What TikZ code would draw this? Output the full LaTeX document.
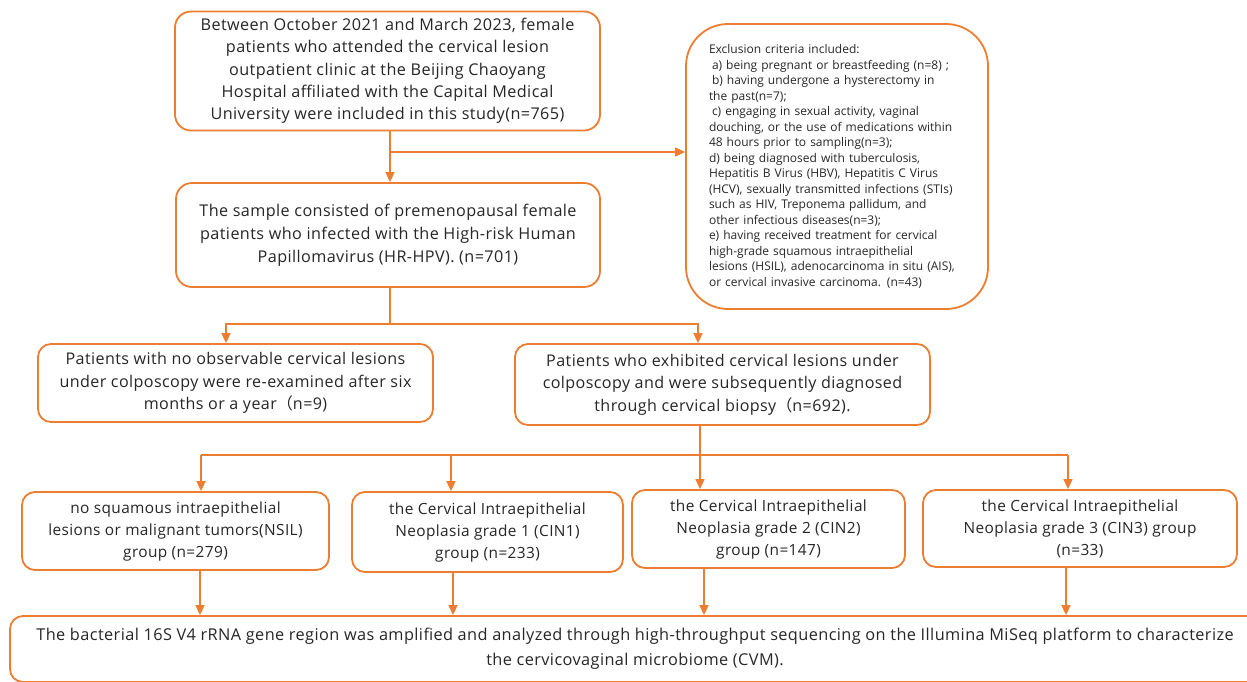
\documentclass[tikz,border=0pt]{standalone}
\usepackage{fontspec}
\setmainfont[LetterSpace=2.5]{Open Sans}
\newfontfamily\exfont{Open Sans}
\newfontfamily\cjk{Noto Sans CJK SC}
\usetikzlibrary{arrows.meta}
\definecolor{org}{HTML}{ED7D31}
\definecolor{txt}{HTML}{262626}
\begin{document}
\begin{tikzpicture}[x=1pt,y=-1pt,
  box/.style={draw=org, line width=1.8pt, rounded corners=13pt, inner sep=0pt, align=center, text=txt, font=\fontsize{16.1}{22.5}\selectfont},
  exbox/.style={draw=org, line width=1.8pt, rounded corners=42pt, inner sep=0pt, align=left, text=txt, text width=256pt, font=\exfont\fontsize{12}{15.5}\selectfont},
  arr/.style={draw=org, line width=1.6pt, -{Triangle[length=10pt,width=9pt]}},
  ln/.style={draw=org, line width=1.6pt}]
\clip (0,0) rectangle (1247,681);
% boxes
\node[box, font=\fontsize{16.2}{22.3}\selectfont, rounded corners=16pt, minimum width=425pt, minimum height=119pt] (b1) at (387.5,71)
 {Between October 2021 and March 2023, female\\patients who attended the cervical lesion\\outpatient clinic at the Beijing Chaoyang\\Hospital affiliated with the Capital Medical\\University were included in this study(n=765)};
\node[exbox, minimum width=302pt, minimum height=285pt] (ex) at (837,166.5)
 {Exclusion criteria included:\\
 \hspace*{3pt}a) being pregnant or breastfeeding (n=8) ;\\
 \hspace*{3pt}b) having undergone a hysterectomy in\\
 the past(n=7);\\
 \hspace*{3pt}c) engaging in sexual activity, vaginal\\
 douching, or the use of medications within\\
 48 hours prior to sampling(n=3);\\
 d) being diagnosed with tuberculosis,\\
 Hepatitis B Virus (HBV), Hepatitis C Virus\\
 (HCV), sexually transmitted infections (STIs)\\
 such as HIV, Treponema pallidum, and\\
 other infectious diseases(n=3);\\
 e) having received treatment for cervical\\
 high-grade squamous intraepithelial\\
 lesions (HSIL), adenocarcinoma in situ (AIS),\\
 or cervical invasive carcinoma. (n=43)};
\node[box, font=\fontsize{16.2}{23}\selectfont, rounded corners=16pt, minimum width=424pt, minimum height=104pt] (b2) at (388,235)
 {The sample consisted of premenopausal female\\patients who infected with the High-risk Human\\Papillomavirus (HR-HPV). (n=701)};
\node[box, minimum width=395pt, minimum height=78pt] (b3) at (235.5,383)
 {Patients with no observable cervical lesions\\under colposcopy were re-examined after six\\months or a year{\cjk （}n=9)};
\node[box, minimum width=415pt, minimum height=81pt] (b4) at (722.5,384.5)
 {Patients who exhibited cervical lesions under\\colposcopy and were subsequently diagnosed\\through cervical biopsy{\cjk （}n=692).};
\node[box, font=\fontsize{15.4}{22}\selectfont, minimum width=307pt, minimum height=78pt] (b5) at (175.5,531)
 {no squamous intraepithelial\\lesions or malignant tumors(NSIL)\\group (n=279)};
\node[box, font=\fontsize{15.4}{22}\selectfont, minimum width=271pt, minimum height=80pt] (b6) at (487.5,532)
 {the Cervical Intraepithelial\\Neoplasia grade 1 (CIN1)\\group (n=233)};
\node[box, font=\fontsize{15.4}{22}\selectfont, minimum width=273pt, minimum height=78pt] (b7) at (768.5,529)
 {the Cervical Intraepithelial\\Neoplasia grade 2 (CIN2)\\group (n=147)};
\node[box, font=\fontsize{15.4}{22}\selectfont, minimum width=314pt, minimum height=77pt] (b8) at (1080,528.5)
 {the Cervical Intraepithelial\\Neoplasia grade 3 (CIN3) group\\(n=33)};
\node[box, font=\fontsize{16.3}{25}\selectfont, minimum width=1250pt, minimum height=66pt] (b9) at (635,649)
 {The bacterial 16S V4 rRNA gene region was amplified and analyzed through high-throughput sequencing on the Illumina MiSeq platform to characterize\\the cervicovaginal microbiome (CVM).};
% helper coordinates
\coordinate (v390) at (390,0);
\coordinate (y152) at (0,152);
\coordinate (h1l) at (226,324);
\coordinate (h1r) at (698,324);
\coordinate (v700) at (700,0);
\coordinate (h2l) at (201,455);
\coordinate (h2m) at (451,455);
\coordinate (h2r) at (1068,455);
\coordinate (c5) at (200,0);
\coordinate (c6) at (453,0);
\coordinate (c7) at (704,0);
\coordinate (c8) at (1066,0);
% connectors
\draw[arr] (v390 |- b1.south) -- (v390 |- b2.north);
\draw[arr] (v390 |- y152) -- (ex.west |- y152);
\draw[arr] (v390 |- b2.south) |- (h1l) -- (h1l |- b3.north);
\draw[arr] (v390 |- b2.south) |- (h1r) -- (h1r |- b4.north);
\draw[arr] (v700 |- b4.south) -- (v700 |- b7.north);
\draw[ln] (h2l) -- (h2r);
\draw[arr] (h2l) -- (h2l |- b5.north);
\draw[arr] (h2m) -- (h2m |- b6.north);
\draw[arr] (h2r) -- (h2r |- b8.north);
\draw[arr] (c5 |- b5.south) -- (c5 |- b9.north);
\draw[arr] (c6 |- b6.south) -- (c6 |- b9.north);
\draw[arr] (c7 |- b7.south) -- (c7 |- b9.north);
\draw[arr] (c8 |- b8.south) -- (c8 |- b9.north);
\end{tikzpicture}
\end{document}
